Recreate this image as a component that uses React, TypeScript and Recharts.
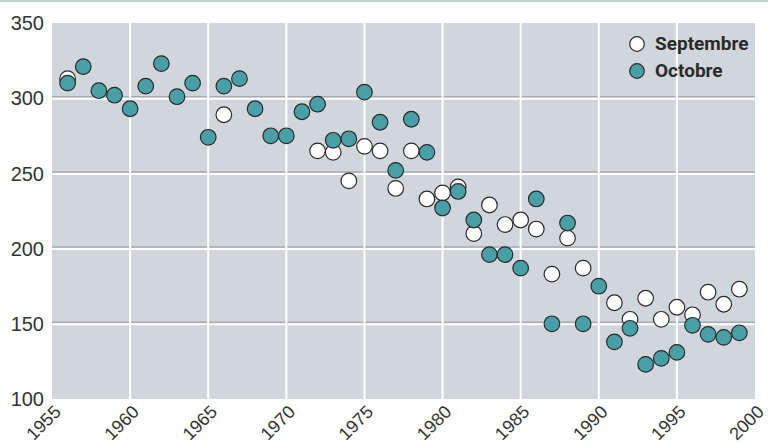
import { ScatterChart, Scatter, XAxis, YAxis, CartesianGrid, ReferenceLine } from 'recharts';

// années avec une valeur de septembre
const septYears = [1956, 1966, 1972, 1973, 1974, 1975, 1976, 1977, 1978, 1979, 1980, 1981, 1982, 1983, 1984, 1985, 1986, 1987, 1988, 1989, 1991, 1992, 1993, 1994, 1995, 1996, 1997, 1998, 1999];
const septValues = [313, 289, 265, 264, 245, 268, 265, 240, 265, 233, 237, 241, 210, 229, 216, 219, 213, 183, 207, 187, 164, 153, 167, 153, 161, 156, 171, 163, 173];

const octYears = [1956, 1957, 1958, 1959, 1960, 1961, 1962, 1963, 1964, 1965, 1966, 1967, 1968, 1969, 1970, 1971, 1972, 1973, 1974, 1975, 1976, 1977, 1978, 1979, 1980, 1981, 1982, 1983, 1984, 1985, 1986, 1987, 1988, 1989, 1990, 1991, 1992, 1993, 1994, 1995, 1996, 1997, 1998, 1999];
const octValues = [310, 321, 305, 302, 293, 308, 323, 301, 310, 274, 308, 313, 293, 275, 275, 291, 296, 272, 273, 304, 284, 252, 286, 264, 227, 238, 219, 196, 196, 187, 233, 150, 217, 150, 175, 138, 147, 123, 127, 131, 149, 143, 141, 144];

const xTicks = [1955, 1960, 1965, 1970, 1975, 1980, 1985, 1990, 1995, 2000];
const yTicks = [100, 150, 200, 250, 300, 350];

const seriesNames = ['Septembre', 'Octobre'];
const seriesColors = ['#ffffff', '#4a9fa6'];

const septData = septYears.map((y, i) => ({ year: y, value: septValues[i] }));
const octData = octYears.map((y, i) => ({ year: y, value: octValues[i] }));

const FONT = "'Liberation Sans', Arial, sans-serif";

const Dot = (color: string) => (p: any) => (
  <circle cx={p.cx} cy={p.cy} r={7.8} fill={color} stroke="#2a2a2a" strokeWidth={1.2} />
);

const XTick = (props: any) => {
  const { x, y, payload } = props;
  const tx = x + 10;
  const ty = y + 6;
  return (
    <text x={tx} y={ty} textAnchor="end" fontSize={18} fill="#333" fontFamily={FONT} transform={`rotate(-45, ${tx}, ${ty})`}>
      {payload.value}
    </text>
  );
};

const HLine = (p: any) => (
  <g>
    <line x1={p.x1} x2={p.x2} y1={p.y1 - 1.5} y2={p.y2 - 1.5} stroke="#a6acb5" strokeWidth={1.5} />
    <line x1={p.x1} x2={p.x2} y1={p.y1 + 0.5} y2={p.y2 + 0.5} stroke="#ffffff" strokeWidth={2} />
  </g>
);

export default function App() {
  return (
    <div style={{ position: 'absolute', left: 0, top: 0, width: 768, height: 445, background: '#fff' }}>
      <div style={{ position: 'absolute', left: 0, top: 0, width: 768, height: 2, background: '#b9d3d0' }} />
      <ScatterChart width={768} height={445} margin={{ top: 23, right: 13, bottom: 0, left: 0 }}>
        <CartesianGrid fill="#d1d5dc" horizontal={false} vertical={false} />
        <XAxis
          type="number"
          dataKey="year"
          domain={[1955, 2000]}
          ticks={xTicks}
          interval={0}
          height={46}
          axisLine={false}
          tickLine={false}
          tick={<XTick />}
        />
        <YAxis
          type="number"
          dataKey="value"
          domain={[100, 350]}
          ticks={yTicks}
          interval={0}
          width={52}
          axisLine={false}
          tickLine={false}
          tick={{ fontSize: 20, fill: '#333', fontFamily: FONT }}
        />
        {yTicks.slice(1, -1).map(v => (
          <ReferenceLine key={'h' + v} y={v} shape={HLine} />
        ))}
        {xTicks.slice(1, -1).map(v => (
          <ReferenceLine key={'v' + v} x={v} stroke="#ffffff" strokeWidth={2} />
        ))}
        <Scatter name={seriesNames[0]} data={septData} shape={Dot(seriesColors[0])} isAnimationActive={false} />
        <Scatter name={seriesNames[1]} data={octData} shape={Dot(seriesColors[1])} isAnimationActive={false} />
      </ScatterChart>
      <div style={{ position: 'absolute', left: 628, top: 30, fontFamily: 'Roboto, sans-serif', fontWeight: 'bold', fontSize: 19, color: '#2a2a2a', lineHeight: '27px' }}>
        {seriesNames.map((n, i) => (
          <div key={n} style={{ display: 'flex', alignItems: 'center', height: 27 }}>
            <svg width={18} height={18} style={{ marginRight: 9 }}>
              <circle cx={9} cy={9} r={7.3} fill={seriesColors[i]} stroke="#2a2a2a" strokeWidth={1.2} />
            </svg>
            {n}
          </div>
        ))}
      </div>
    </div>
  );
}
